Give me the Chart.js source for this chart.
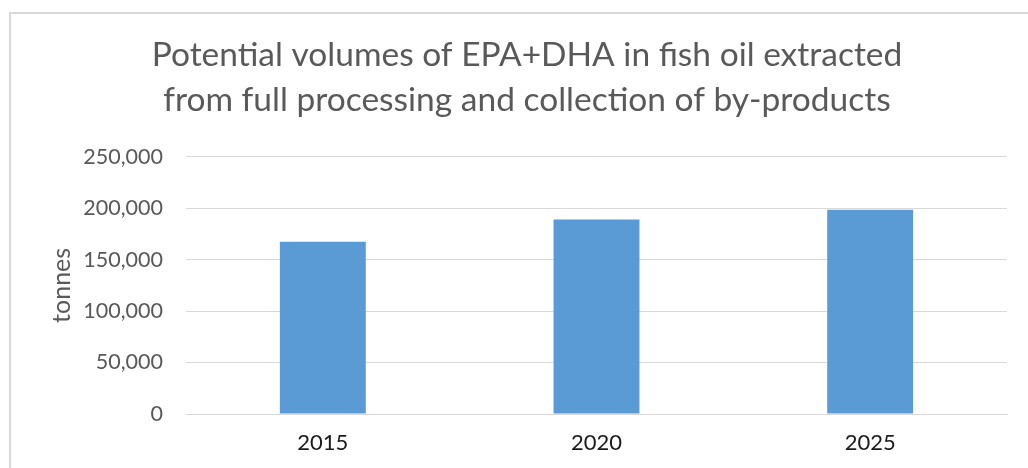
<!DOCTYPE html>
<html>
<head>
<meta charset="utf-8">
<script src="https://cdn.jsdelivr.net/npm/chart.js@4"></script>
<style>
  body { margin: 0; background: #fff; overflow: hidden; }
  #wrap { position: relative; width: 1028px; height: 468px; }
  #frame { position: absolute; left: 9px; top: 12px; width: 1100px; height: 600px; border: 2px solid #d9d9d9; box-sizing: border-box; }
  canvas { position: absolute; left: 0; top: 0; }
</style>
</head>
<body>
<div id="wrap">
  <div id="frame"></div>
  <canvas id="chart" width="1028" height="468"></canvas>
</div>
<script>
const years = ['2015', '2020', '2025'];
const tonnes = [167300, 189000, 198500];
const titleLines = ['Potential volumes of EPA+DHA in fish oil extracted', 'from full processing and collection of by-products'];

const ctx = document.getElementById('chart').getContext('2d');
new Chart(ctx, {
    type: 'bar',
    data: {
        labels: years,
        datasets: [{
            label: 'tonnes',
            data: tonnes,
            backgroundColor: '#5b9bd5',
            borderWidth: 0,
            barPercentage: 0.314,
            categoryPercentage: 1
        }]
    },
    options: {
        responsive: false,
        animation: false,
        layout: { padding: { left: 47, right: 21, top: 0, bottom: 0 } },
        plugins: {
            legend: { display: false },
            tooltip: { enabled: false },
            title: {
                display: true,
                text: titleLines,
                color: '#595959',
                font: { family: 'Lato', size: 33.5, weight: 'normal', lineHeight: 1.34 },
                padding: { top: 33, bottom: 34 }
            }
        },
        scales: {
            x: {
                afterFit: scale => { scale.height = 54; },
                grid: { display: false },
                border: { display: true, color: '#d9d9d9', width: 1 },
                ticks: { color: '#1a1a1a', font: { family: 'Lato', size: 22 }, padding: 8 }
            },
            y: {
                min: 0,
                max: 250000,
                afterFit: scale => { scale.width = 139; },
                grid: { color: '#d9d9d9', lineWidth: 1, drawTicks: false },
                border: { display: false },
                ticks: {
                    stepSize: 50000,
                    color: '#595959',
                    font: { family: 'Lato', size: 21.5 },
                    padding: 23,
                    callback: v => v.toLocaleString('en-US')
                },
                title: {
                    display: true,
                    text: 'tonnes',
                    color: '#595959',
                    font: { family: 'Lato', size: 25 },
                    padding: { top: 0, bottom: 0 }
                }
            }
        }
    }
});
</script>
</body>
</html>
